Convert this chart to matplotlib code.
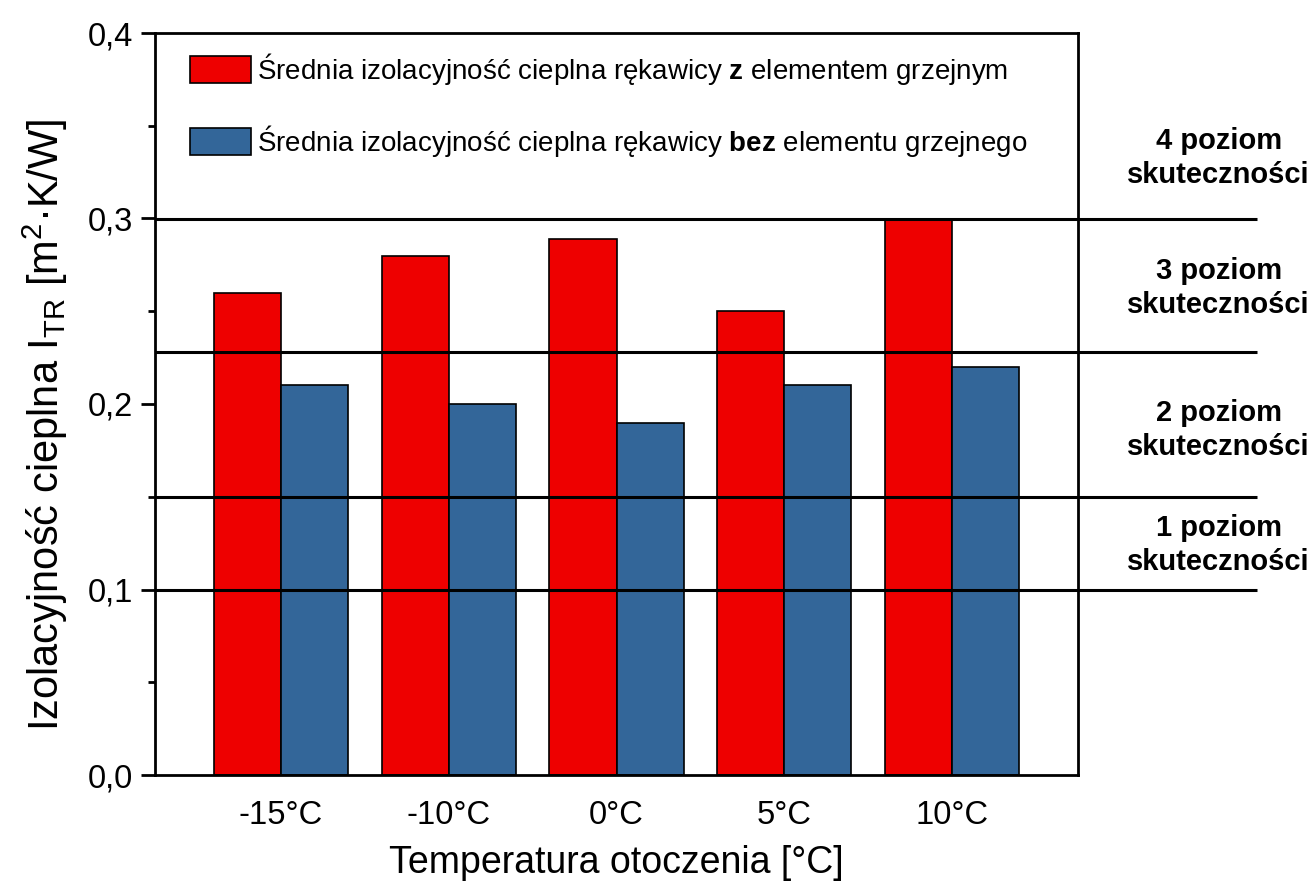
import matplotlib
matplotlib.use("Agg")
import matplotlib.pyplot as plt
import matplotlib.transforms as mtransforms
from matplotlib.ticker import MultipleLocator, FuncFormatter
import numpy as np

plt.rcParams['font.family'] = ['Liberation Sans', 'DejaVu Sans']
plt.rcParams['mathtext.fontset'] = 'custom'
plt.rcParams['mathtext.rm'] = 'Liberation Sans'
plt.rcParams['mathtext.it'] = 'Liberation Sans:italic'
plt.rcParams['mathtext.bf'] = 'Liberation Sans:bold'

categories = ['-15°C', '-10°C', '0°C', '5°C', '10°C']
with_heater = [0.26, 0.28, 0.289, 0.25, 0.30]
without_heater = [0.21, 0.20, 0.19, 0.21, 0.22]
level_lines = [0.1, 0.15, 0.228, 0.3]
level_labels = ['1 poziom\nskuteczności', '2 poziom\nskuteczności',
                '3 poziom\nskuteczności', '4 poziom\nskuteczności']
level_label_y = [0.124, 0.186, 0.2625, 0.3326]

label_with = 'Średnia izolacyjność cieplna rękawicy $\\mathbf{z}$ elementem grzejnym'
label_without = 'Średnia izolacyjność cieplna rękawicy $\\mathbf{bez}$ elementu grzejnego'

fig = plt.figure(figsize=(13.16, 8.96), dpi=100)
ax = fig.add_axes([155/1316, 1 - 775/896, (1078-155)/1316, (775-33)/896])

x = np.arange(len(categories))
w = 0.4
ax.bar(x - w/2, with_heater, w, color='#EE0000', edgecolor='black', linewidth=1.2,
       label=label_with, zorder=2)
ax.bar(x + w/2, without_heater, w, color='#336699', edgecolor='black', linewidth=1.2,
       label=label_without, zorder=2)

trans = mtransforms.blended_transform_factory(ax.transAxes, ax.transData)
for yv in level_lines:
    ax.plot([0, 1.194], [yv, yv], color='black', lw=2.2, transform=trans,
            clip_on=False, zorder=3, solid_capstyle='butt')
for yv, lab in zip(level_label_y, level_labels):
    ax.text(1.1525, yv, lab, transform=trans, ha='center', va='center',
            fontsize=21, fontweight='bold', linespacing=1.28)

ax.set_xlim(-0.75, 4.75)
ax.set_ylim(0, 0.4)
ax.set_xticks(x)
ax.set_xticklabels(categories, fontsize=23.5)
ax.tick_params(axis='x', length=0, pad=18)
ax.yaxis.set_major_locator(MultipleLocator(0.1))
ax.yaxis.set_minor_locator(MultipleLocator(0.05))
ax.yaxis.set_major_formatter(FuncFormatter(lambda v, p: f'{v:.1f}'.replace('.', ',')))
ax.tick_params(axis='y', which='major', length=10, width=2, labelsize=23.5, direction='out', pad=6)
ax.tick_params(axis='y', which='minor', length=5, width=2, direction='out')
for s in ax.spines.values():
    s.set_linewidth(2)
    s.set_zorder(4)

ax.set_xlabel('Temperatura otoczenia [°C]', fontsize=27, labelpad=10)
ax.set_ylabel('Izolacyjność cieplna I$_{\\mathrm{TR}}$ [m$^{2}$·K/W]', fontsize=30)
ax.yaxis.set_label_coords(-0.092, 0.472)

leg = ax.legend(loc='upper left', bbox_to_anchor=(0.038, 0.976), frameon=False,
                fontsize=20, handlelength=2.2, handleheight=1.15, handletextpad=0.22,
                labelspacing=1.3, borderaxespad=0, borderpad=0)

fig.savefig('out.png', dpi=100)
